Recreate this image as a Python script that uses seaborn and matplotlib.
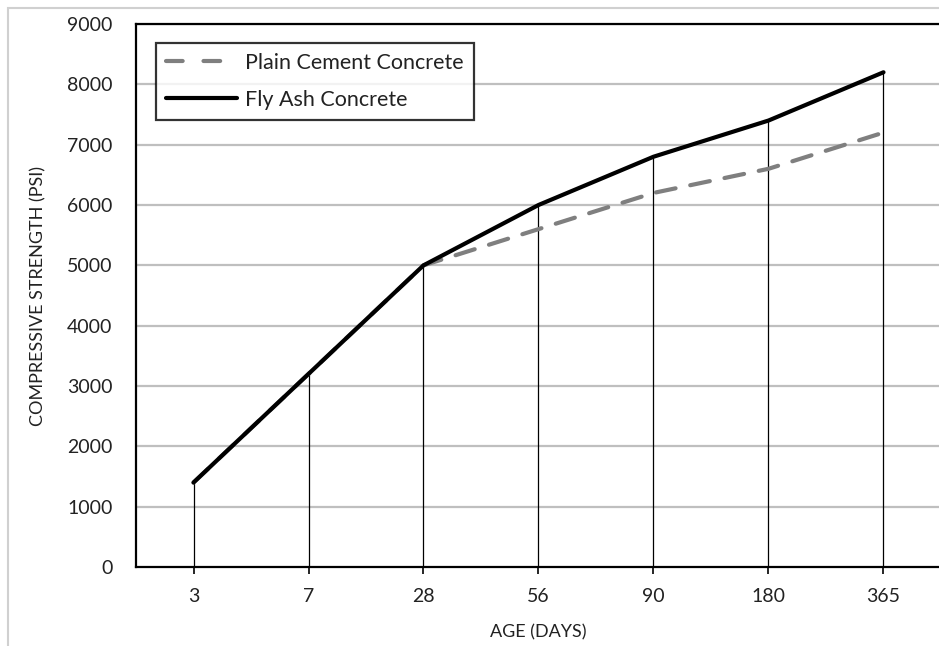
import matplotlib
matplotlib.use("Agg")
import matplotlib.pyplot as plt
import seaborn as sns
import pandas as pd
from matplotlib.patches import Rectangle
from matplotlib.lines import Line2D

ages = ["3", "7", "28", "56", "90", "180", "365"]
plain = [1400, 3200, 5000, 5600, 6200, 6600, 7200]
flyash = [1400, 3200, 5000, 6000, 6800, 7400, 8200]
series_names = ["Plain Cement Concrete", "Fly Ash Concrete"]
yticks = list(range(0, 9001, 1000))

sns.set_theme(style="white")
plt.rcParams['font.family'] = ['Lato', 'DejaVu Sans']

df = pd.DataFrame({
    "age": ages * 2,
    "strength": plain + flyash,
    "series": [series_names[0]] * len(ages) + [series_names[1]] * len(ages),
})

fig = plt.figure(figsize=(9.39, 6.46), dpi=100)
# light figure border
fig.patches.append(Rectangle((8/939, -0.1), 1.2, 1 - 8/646 + 0.1, transform=fig.transFigure,
                             fill=False, edgecolor="#d0d0d0", linewidth=1.5, zorder=0))
ax = fig.add_axes([136/939, 1 - 567/646, 805/939, 543/646])

# gridlines
for y in yticks[1:]:
    ax.axhline(y, color="#bfbfbf", linewidth=1.6, zorder=0)

# drop lines
pos = list(range(len(ages)))
tops = [max(a, b) for a, b in zip(plain, flyash)]
ax.vlines(pos, 0, tops, color="black", linewidth=0.9, zorder=1)

sns.lineplot(data=df[df.series == series_names[0]], x="age", y="strength", ax=ax,
             color="#7f7f7f", linewidth=3.0, sort=False, legend=False, zorder=3,
             dashes=False)
ax.lines[-1].set_dashes([4.8, 3.6])
ax.lines[-1].set_dash_capstyle("round")
sns.lineplot(data=df[df.series == series_names[1]], x="age", y="strength", ax=ax,
             color="black", linewidth=3.0, sort=False, legend=False, zorder=4)
ax.lines[-1].set_solid_capstyle("round")

ax.set_xlim(-0.5, len(ages) - 0.5)
ax.set_ylim(0, 9000)
ax.set_yticks(yticks)
ax.set_xticks(pos)
ax.set_xticklabels(ages)
ax.tick_params(axis="y", length=0, labelsize=14, colors="#222222", pad=17)
ax.tick_params(axis="x", length=5, width=1.2, color="black", direction="out",
               labelsize=14, labelcolor="#222222", pad=10, bottom=True)
for s in ax.spines.values():
    s.set_color("black")
    s.set_linewidth(1.6)
    s.set_visible(True)

ax.set_xlabel("AGE (DAYS)", fontsize=13, color="#222222", labelpad=14)
ax.set_ylabel("COMPRESSIVE STRENGTH (PSI)", fontsize=13, color="#222222", labelpad=15)

handles = [
    Line2D([0], [0], color="#7f7f7f", linewidth=3.0, dashes=[4.0, 5.0], dash_capstyle="round"),
    Line2D([0], [0], color="black", linewidth=3.0),
]
leg = ax.legend(handles, series_names, loc="upper left", bbox_to_anchor=(20/805, 1 - 19/543),
                frameon=True, fancybox=False, fontsize=15.5, handlelength=3.3,
                handletextpad=0.4, borderpad=0.45, labelspacing=0.8, borderaxespad=0)
leg.get_frame().set_edgecolor("black")
leg.get_frame().set_linewidth(1.6)
for t in leg.get_texts():
    t.set_color("#222222")

fig.savefig("out.png", dpi=100)
